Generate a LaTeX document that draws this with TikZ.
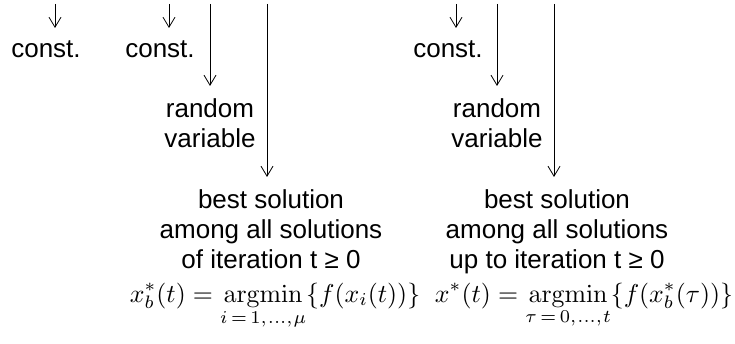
\documentclass[tikz,border=0pt]{standalone}
\usepackage{amsmath}
\usepackage{graphicx}
\usepackage[no-math]{fontspec}
\setmainfont{Liberation Sans}
\usetikzlibrary{arrows.meta, positioning, calc}

\begin{document}
\begin{tikzpicture}[
    x=1pt, y=-1pt,
    lbl/.style={align=center, inner sep=0pt, anchor=base,
                font=\fontsize{26}{30}\selectfont},
    formula/.style={inner sep=0pt, anchor=base},
    arr/.style={-{Straight Barb[length=10pt, width=12pt]}, line width=0.8pt,
                shorten >=13pt},
  ]
  \useasboundingbox (0,0) rectangle (735,344);
  % free ends at the top edge
  \coordinate (s1) at (55,4);
  \coordinate (s2) at (169,4);
  \coordinate (s3) at (210,4);
  \coordinate (s4) at (267,4);
  \coordinate (s5) at (456,4);
  \coordinate (s6) at (497,4);
  \coordinate (s7) at (554,4);
  % labels (base = baseline of the last line)
  \node[lbl] (const1) at (46,58) {const.};
  \node[lbl] (const2) at (160,58) {const.};
  \node[lbl] (rand1) at (210,148) {random\\variable};
  \node[lbl] (best1) at (271,269) {best solution\\among all solutions\\of iteration t ≥ 0};
  \node[lbl] (const3) at (448,58) {const.};
  \node[lbl] (rand2) at (497,148) {random\\variable};
  \node[lbl] (best2) at (557,269) {best solution\\among all solutions\\up to iteration t ≥ 0};
  % formulas
  \node[formula] (xb) at (275,302)
    {\scalebox{2.58}{$\displaystyle x_b^*(t)=\operatorname*{argmin}_{i\,=\,1,\mkern1mu\ldots,\mkern1mu\mu}\{f(x_i(t))\}$}};
  \node[formula] (xs) at (584,302)
    {\scalebox{2.58}{$\displaystyle x^*(t)=\operatorname*{argmin}_{\tau\,=\,0,\mkern1mu\ldots,\mkern1mu t}\{f(x_b^*(\tau))\}$}};
  % arrows
  \draw[arr] (s1) -- (s1 |- const1.north);
  \draw[arr] (s2) -- (s2 |- const2.north);
  \draw[arr] (s3) -- (s3 |- rand1.north);
  \draw[arr] (s4) -- (s4 |- best1.north);
  \draw[arr] (s5) -- (s5 |- const3.north);
  \draw[arr] (s6) -- (s6 |- rand2.north);
  \draw[arr] (s7) -- (s7 |- best2.north);
\end{tikzpicture}
\end{document}
